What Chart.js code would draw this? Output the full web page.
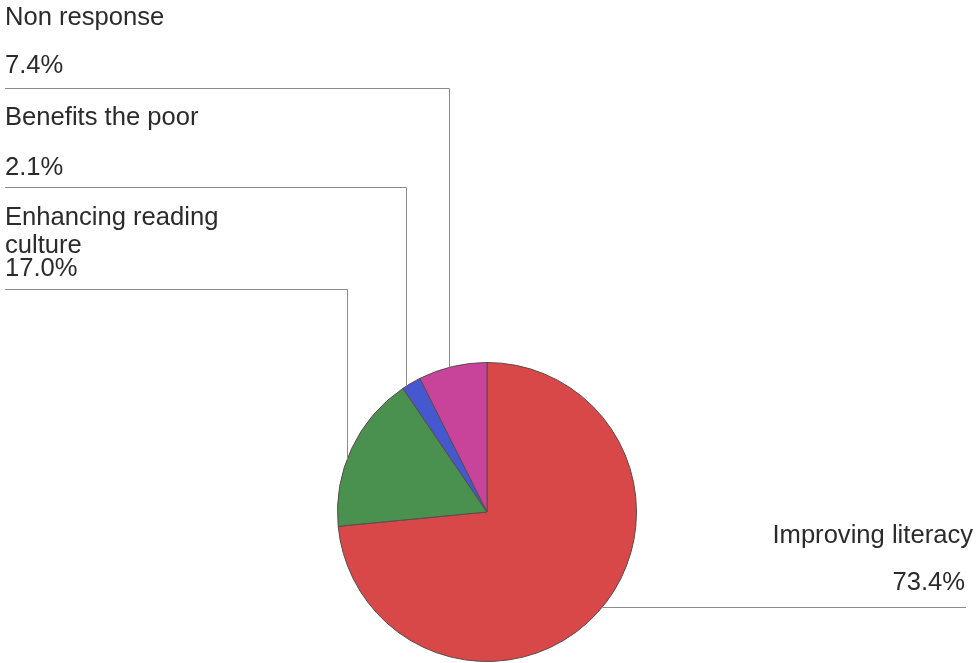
<!DOCTYPE html>
<html>
<head>
<meta charset="utf-8">
<script src="https://cdn.jsdelivr.net/npm/chart.js@4/dist/chart.umd.min.js"></script>
<style>
  body { margin: 0; background: #ffffff; }
  #wrap { width: 979px; height: 663px; }
</style>
</head>
<body>
<div id="wrap"><canvas id="pie" width="979" height="663"></canvas></div>
<script>
// slice data, clockwise from 12 o'clock
const categories = [
    ['Improving literacy'],
    ['Enhancing reading', 'culture'],
    ['Benefits the poor'],
    ['Non response']
];
const shares = [73.4, 17.0, 2.1, 7.4];
const sliceColors = ['#d84848', '#4a9150', '#4658d0', '#c8449a'];

// where each callout sits: text block + elbow of the leader line
const callouts = [
    { side: 'right', textX: 973, pctX: 965, nameY: [543], pctY: 590, lineY: 607, lineEnd: 966 },
    { side: 'left', nameY: [225, 253], pctY: 276, lineY: 289, elbowX: 347 },
    { side: 'left', nameY: [125], pctY: 175, lineY: 187, elbowX: 406 },
    { side: 'left', nameY: [25], pctY: 73, lineY: 88, elbowX: 449 }
];

const calloutPlugin = {
    id: 'callouts',
    afterDraw(chart) {
        const ctx = chart.ctx;
        const arcs = chart.getDatasetMeta(0).data;
        const cx = arcs[0].x, cy = arcs[0].y, r = arcs[0].outerRadius;
        ctx.save();
        ctx.font = '25.6px "Liberation Sans", Arial, sans-serif';
        ctx.fillStyle = '#2b2b2b';
        ctx.textBaseline = 'alphabetic';
        ctx.strokeStyle = '#8c8c8c';
        ctx.lineWidth = 1;

        callouts.forEach((c, i) => {
            const pct = shares[i].toFixed(1) + '%';
            if (c.side === 'left') {
                ctx.textAlign = 'left';
                categories[i].forEach((t, k) => ctx.fillText(t, 5, c.nameY[k]));
                ctx.fillText(pct, 5, c.pctY);
                // leader: across, then down until it meets the rim
                const dx = c.elbowX - cx;
                const yHit = cy - Math.sqrt(Math.max(r * r - dx * dx, 0));
                ctx.beginPath();
                ctx.moveTo(5, c.lineY + 0.5);
                ctx.lineTo(c.elbowX + 0.5, c.lineY + 0.5);
                ctx.lineTo(c.elbowX + 0.5, yHit);
                ctx.stroke();
            } else {
                ctx.textAlign = 'right';
                categories[i].forEach((t, k) => ctx.fillText(t, c.textX, c.nameY[k]));
                ctx.fillText(pct, c.pctX, c.pctY);
                const dy = c.lineY - cy;
                const xHit = cx + Math.sqrt(Math.max(r * r - dy * dy, 0));
                ctx.beginPath();
                ctx.moveTo(xHit, c.lineY + 0.5);
                ctx.lineTo(c.lineEnd, c.lineY + 0.5);
                ctx.stroke();
            }
        });
        ctx.restore();
    }
};

new Chart(document.getElementById('pie'), {
    type: 'pie',
    data: {
        labels: categories.map(c => c.join(' ')),
        datasets: [{
            data: shares,
            backgroundColor: sliceColors,
            borderColor: '#5a4a4a',
            borderWidth: 1
        }]
    },
    options: {
        responsive: false,
        animation: false,
        layout: { padding: { top: 362, bottom: 1, left: 337, right: 342 } },
        plugins: {
            legend: { display: false },
            tooltip: { enabled: false }
        }
    },
    plugins: [calloutPlugin]
});
</script>
</body>
</html>
